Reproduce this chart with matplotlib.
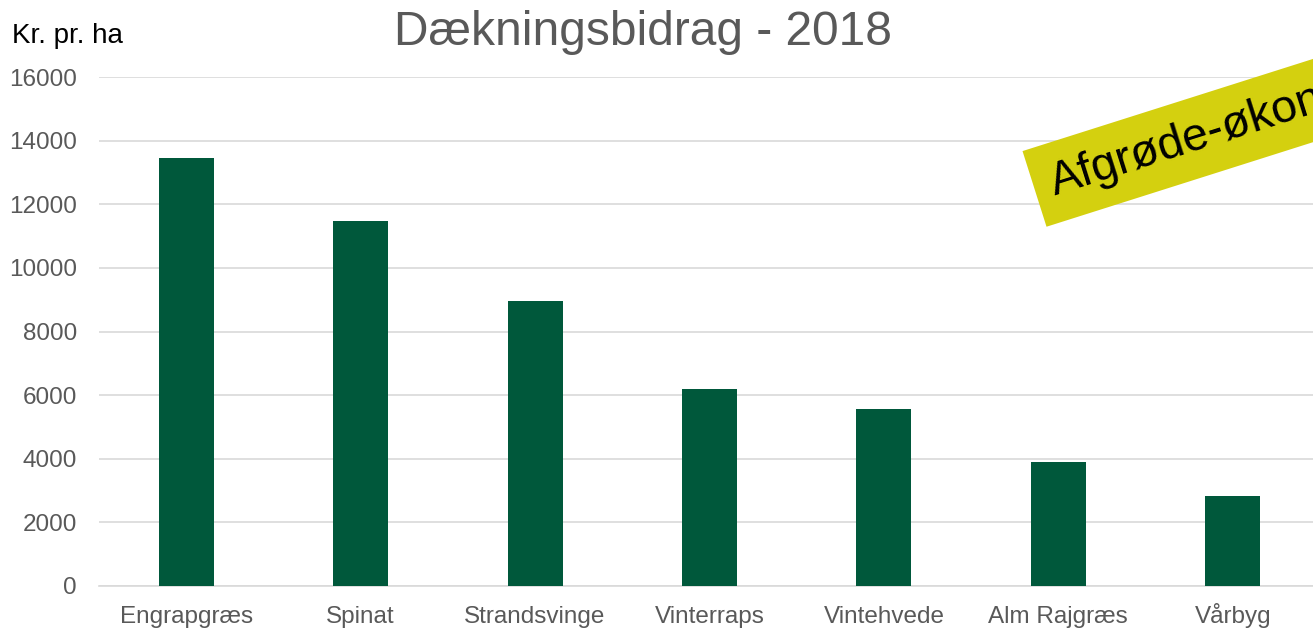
import matplotlib
matplotlib.use("Agg")
import matplotlib.pyplot as plt

categories = ["Engrapgræs", "Spinat", "Strandsvinge", "Vinterraps", "Vintehvede", "Alm Rajgræs", "Vårbyg"]
values = [13450, 11480, 8960, 6200, 5560, 3900, 2830]
yticks = [0, 2000, 4000, 6000, 8000, 10000, 12000, 14000, 16000]

plt.rcParams['font.family'] = ['Liberation Sans', 'DejaVu Sans']

fig = plt.figure(figsize=(13.13, 6.29), dpi=100)
ax = fig.add_axes([99/1313, 43/629, 1 - 99/1313, (586-77)/629])

x = list(range(len(categories)))
ax.bar(x, values, width=0.315, color="#00583B", zorder=3)
ax.set_xlim(-0.5, 6.46)
ax.set_ylim(0, 16000)
ax.set_yticks(yticks)
ax.set_yticklabels([str(v) for v in yticks])
ax.set_xticks(x)
ax.set_xticklabels(categories)
ax.tick_params(axis='both', length=0, colors="#595959", labelsize=17.5)
ax.tick_params(axis='x', pad=26.6)
ax.tick_params(axis='y', pad=16)
for lbl in ax.get_xticklabels():
    lbl.set_verticalalignment('baseline')
ax.grid(axis='y', color="#D9D9D9", linewidth=1.2, zorder=0)
for s in ["top", "right", "left"]:
    ax.spines[s].set_visible(False)
ax.spines["bottom"].set_color("#D9D9D9")
ax.spines["bottom"].set_linewidth(1.2)

fig.text(643/1313, 1 - 45/629, "Dækningsbidrag - 2018", ha="center", va="baseline",
         fontsize=34.5, color="#595959")
fig.text(12/1313, 1 - 43/629, "Kr. pr. ha", ha="left", va="baseline", fontsize=20, color="black")

fig.text(1055/1313, 1 - 195/629, "Afgrøde-økonomi", ha="left", va="baseline",
         rotation=17.6, rotation_mode="anchor", fontsize=33.5, color="black",
         bbox=dict(boxstyle="square,pad=0.38", facecolor="#D4D00F", edgecolor="none"))

fig.savefig("out.png", dpi=100)
